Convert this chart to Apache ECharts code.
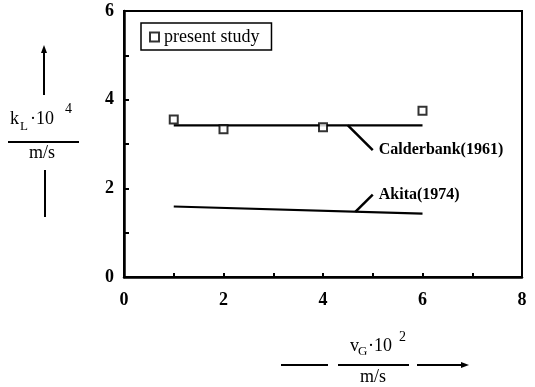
<!DOCTYPE html>
<html>
<head>
<meta charset="utf-8">
<script src="https://cdn.jsdelivr.net/npm/echarts@6/dist/echarts.min.js"></script>
<style>
  html, body { margin: 0; padding: 0; background: #fff; }
  #chart { width: 535px; height: 387px; }
</style>
</head>
<body>
<div id="chart"></div>
<script>
// Measured mass-transfer coefficient vs. superficial gas velocity
const vG = [1, 2, 4, 6];
const kLPresent = [3.55, 3.33, 3.38, 3.75];

// Correlations drawn as straight lines over the measured range
const calderbankX = [1, 6];
const calderbankY = [3.42, 3.42];
const akitaX = [1, 6];
const akitaY = [1.59, 1.43];

// Leader lines from each correlation to its label
const calderbankLeaderX = [4.5, 5.0];
const calderbankLeaderY = [3.42, 2.86];
const akitaLeaderX = [4.65, 5.0];
const akitaLeaderY = [1.47, 1.86];

const xTicks = [0, 2, 4, 6, 8];
const yTicks = [0, 2, 4, 6];

const zip = (xs, ys) => xs.map((x, i) => [x, ys[i]]);
const serif = '"Liberation Serif", "Times New Roman", serif';

const chart = echarts.init(document.getElementById('chart'));

const leaderLabel = (text) => ({
  show: true,
  position: 'right',
  distance: 6,
  formatter: (p) => (p.dataIndex === 1 ? text : ''),
  fontFamily: serif,
  fontSize: 16,
  fontWeight: 'bold',
  color: '#000'
});

chart.setOption({
  animation: false,
  backgroundColor: '#fff',
  grid: {
    left: 124, top: 11, right: 13, bottom: 110,
    show: true, borderColor: '#000', borderWidth: 2
  },
  legend: {
    data: ['present study'],
    left: 141, top: 23,
    padding: [5, 12, 4, 8],
    borderColor: '#000', borderWidth: 1.5,
    itemWidth: 9, itemHeight: 9, itemGap: 6,
    textStyle: { fontFamily: serif, fontSize: 18, color: '#000' }
  },
  xAxis: {
    type: 'value', min: 0, max: 8, interval: 1,
    axisLine: { lineStyle: { color: '#000', width: 2.5 } },
    axisTick: { inside: true, length: 4, lineStyle: { color: '#000', width: 2 } },
    splitLine: { show: false },
    axisLabel: {
      margin: 14,
      formatter: (v) => (xTicks.includes(v) ? String(v) : ''),
      fontFamily: serif, fontSize: 18, fontWeight: 'bold', color: '#000'
    }
  },
  yAxis: {
    type: 'value', min: 0, max: 6, interval: 1,
    axisLine: { show: true, lineStyle: { color: '#000', width: 2.5 } },
    axisTick: { show: true, inside: true, length: 5, lineStyle: { color: '#000', width: 2 } },
    splitLine: { show: false },
    axisLabel: {
      margin: 10,
      formatter: (v) => (yTicks.includes(v) ? String(v) : ''),
      fontFamily: serif, fontSize: 18, fontWeight: 'bold', color: '#000'
    }
  },
  series: [
    {
      name: 'present study', type: 'scatter',
      data: zip(vG, kLPresent),
      symbol: 'rect', symbolSize: 8,
      itemStyle: { color: '#fff', borderColor: '#000', borderWidth: 2 },
      z: 5
    },
    {
      name: 'Calderbank(1961)', type: 'line',
      data: zip(calderbankX, calderbankY),
      symbol: 'none',
      lineStyle: { color: '#000', width: 2.2 }
    },
    {
      name: 'Akita(1974)', type: 'line',
      data: zip(akitaX, akitaY),
      symbol: 'none',
      lineStyle: { color: '#000', width: 2.2 }
    },
    {
      name: 'calderbankLeader', type: 'line',
      data: zip(calderbankLeaderX, calderbankLeaderY),
      symbol: 'circle', symbolSize: 0.1, showSymbol: true,
      lineStyle: { color: '#000', width: 2.5 },
      label: leaderLabel('Calderbank(1961)')
    },
    {
      name: 'akitaLeader', type: 'line',
      data: zip(akitaLeaderX, akitaLeaderY),
      symbol: 'circle', symbolSize: 0.1, showSymbol: true,
      lineStyle: { color: '#000', width: 2.5 },
      label: leaderLabel('Akita(1974)')
    }
  ],
  graphic: [
    // y-axis title: k_L·10^4 / m/s with an upward arrow
    { type: 'text', left: 10, top: 110, style: { text: 'k', font: '18px ' + serif, fill: '#000' } },
    { type: 'text', left: 20, top: 120, style: { text: 'L', font: '13px ' + serif, fill: '#000' } },
    { type: 'text', left: 30, top: 110, style: { text: '·10', font: '18px ' + serif, fill: '#000' } },
    { type: 'text', left: 65, top: 102, style: { text: '4', font: '14px ' + serif, fill: '#000' } },
    { type: 'line', shape: { x1: 8, y1: 142, x2: 79, y2: 142 }, style: { stroke: '#000', lineWidth: 2 } },
    { type: 'text', left: 29, top: 144, style: { text: 'm/s', font: '18px ' + serif, fill: '#000' } },
    { type: 'line', shape: { x1: 44, y1: 95, x2: 44, y2: 50 }, style: { stroke: '#000', lineWidth: 2 } },
    { type: 'polygon', shape: { points: [[44, 45], [41, 53], [47, 53]] }, style: { fill: '#000' } },
    { type: 'line', shape: { x1: 45, y1: 170, x2: 45, y2: 217 }, style: { stroke: '#000', lineWidth: 2 } },

    // x-axis title: v_G·10^2 / m/s with a rightward arrow
    { type: 'line', shape: { x1: 281, y1: 365, x2: 328, y2: 365 }, style: { stroke: '#000', lineWidth: 2 } },
    { type: 'text', left: 350, top: 337, style: { text: 'v', font: '18px ' + serif, fill: '#000' } },
    { type: 'text', left: 358, top: 345, style: { text: 'G', font: '13px ' + serif, fill: '#000' } },
    { type: 'text', left: 368, top: 337, style: { text: '·10', font: '18px ' + serif, fill: '#000' } },
    { type: 'text', left: 399, top: 330, style: { text: '2', font: '14px ' + serif, fill: '#000' } },
    { type: 'line', shape: { x1: 338, y1: 365, x2: 409, y2: 365 }, style: { stroke: '#000', lineWidth: 2 } },
    { type: 'text', left: 360, top: 368, style: { text: 'm/s', font: '18px ' + serif, fill: '#000' } },
    { type: 'line', shape: { x1: 417, y1: 365, x2: 462, y2: 365 }, style: { stroke: '#000', lineWidth: 2 } },
    { type: 'polygon', shape: { points: [[469, 365], [461, 362], [461, 368]] }, style: { fill: '#000' } }
  ]
});
</script>
</body>
</html>
